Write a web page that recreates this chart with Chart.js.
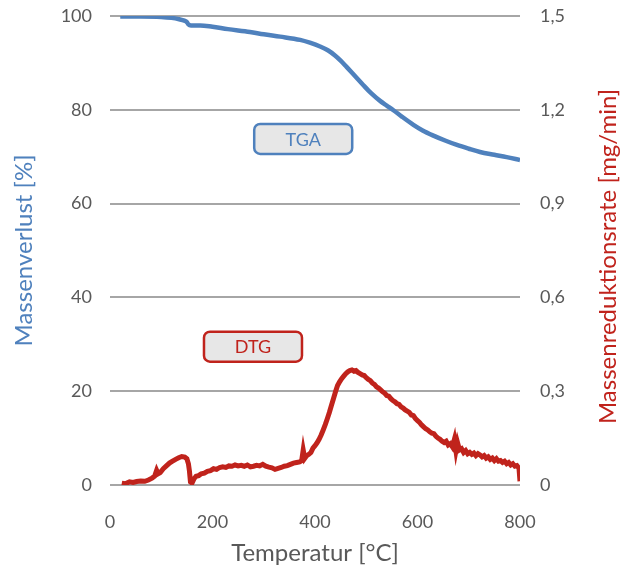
<!DOCTYPE html>
<html lang="de">
<head>
  <meta charset="UTF-8">
  <title>TGA / DTG</title>
  <script src="https://cdn.jsdelivr.net/npm/chart.js"></script>
  <style>
    body { margin: 0; background: #fff; }
    #wrap { width: 624px; height: 574px; }
  </style>
</head>
<body>
  <div id="wrap"><canvas id="tgaChart" width="624" height="574"></canvas></div>

  <script>
    // TGA: Massenverlust [%] ueber Temperatur [°C]
    const tgaTemp = [20, 60, 100, 120, 135, 145, 150, 153, 158, 176, 200, 230, 273, 300, 332, 371, 390, 410, 425, 439,
      450, 462, 478, 494, 510, 527, 540, 553, 570, 592, 610, 631, 655, 677, 700, 722, 750, 774, 800];
    const tgaWerte = [99.9, 99.9, 99.8, 99.6, 99.3, 99.0, 98.7, 98.2, 98.0, 98.0, 97.7, 97.2, 96.6, 96.1, 95.6, 94.9, 94.3, 93.5, 92.7, 91.6,
      90.5, 89.1, 87.2, 85.3, 83.5, 81.9, 80.9, 79.9, 78.5, 76.8, 75.6, 74.5, 73.4, 72.5, 71.7, 71.0, 70.4, 69.9, 69.3];

    // DTG: Massenreduktionsrate [mg/min]
    const dtgTemp = [23, 30, 38, 45, 52, 60, 68, 75, 82, 87, 91, 94, 98, 104, 110, 116, 122, 128, 134, 140,
      146, 150, 153, 155, 157, 160, 164, 168, 173, 178, 184, 190, 196, 202, 208, 214, 220, 226, 232, 238,
      244, 250, 256, 262, 268, 274, 280, 286, 292, 298, 304, 310, 316, 322, 328, 334, 340, 346, 352, 358,
      364, 370, 374, 377, 380, 384, 388, 392, 396, 400, 404, 408, 412, 416, 420, 424, 428, 432, 436, 440,
      444, 448, 452, 456, 460, 464, 468, 472, 476, 480, 484, 488, 492, 496, 500, 504, 508, 512, 516, 520,
      524, 528, 532, 536, 540, 544, 548, 552, 556, 560, 564, 568, 572, 576, 580, 584, 588, 592, 596, 600,
      604, 608, 612, 616, 620, 624, 628, 632, 636, 640, 644, 648, 652, 656, 660, 664, 668, 672, 675, 678,
      682, 686, 690, 694, 698, 702, 706, 710, 714, 718, 722, 726, 730, 734, 738, 742, 746, 750, 754, 758,
      762, 766, 770, 774, 778, 782, 786, 790, 794, 798, 800];
    const dtgWerte = [0.006, 0.004, 0.010, 0.008, 0.011, 0.013, 0.012, 0.016, 0.022, 0.028, 0.047, 0.036, 0.040, 0.052, 0.061, 0.070, 0.076, 0.082, 0.087, 0.091,
      0.089, 0.084, 0.068, 0.045, 0.010, 0.006, 0.020, 0.028, 0.030, 0.036, 0.038, 0.044, 0.046, 0.052, 0.050, 0.056, 0.058, 0.056, 0.061, 0.060,
      0.064, 0.061, 0.063, 0.060, 0.064, 0.058, 0.060, 0.063, 0.061, 0.066, 0.060, 0.057, 0.055, 0.050, 0.053, 0.056, 0.060, 0.062, 0.066, 0.070,
      0.072, 0.074, 0.078, 0.112, 0.085, 0.094, 0.098, 0.104, 0.118, 0.126, 0.135, 0.146, 0.160, 0.176, 0.193, 0.212, 0.232, 0.254, 0.276, 0.298,
      0.318, 0.330, 0.340, 0.348, 0.356, 0.362, 0.366, 0.368, 0.364, 0.366, 0.360, 0.356, 0.352, 0.350, 0.343, 0.338, 0.334, 0.326, 0.322, 0.314,
      0.310, 0.304, 0.298, 0.294, 0.286, 0.284, 0.276, 0.270, 0.266, 0.260, 0.258, 0.250, 0.246, 0.240, 0.236, 0.232, 0.224, 0.222, 0.212, 0.206,
      0.200, 0.192, 0.186, 0.180, 0.176, 0.170, 0.166, 0.164, 0.156, 0.150, 0.146, 0.140, 0.136, 0.140, 0.128, 0.132, 0.122, 0.146, 0.110, 0.136,
      0.112, 0.116, 0.104, 0.110, 0.100, 0.104, 0.098, 0.102, 0.094, 0.100, 0.096, 0.090, 0.094, 0.086, 0.090, 0.082, 0.086, 0.078, 0.084, 0.076,
      0.078, 0.072, 0.076, 0.068, 0.072, 0.064, 0.068, 0.060, 0.062, 0.054, 0.012];

    const blau = '#4F81BD';
    const rot = '#C0231C';
    const grau = '#595959';
    const schrift = 'Lato, "Open Sans", sans-serif';

    // Beschriftungen im Diagramm (Position in Achsenwerten)
    const kaesten = [
      { text: 'TGA', x: 377, y: 73.8, farbe: blau },
      { text: 'DTG', x: 279, y: 29.5, farbe: rot }
    ];

    // feste Breiten/Hoehen der Achsen, ohne Zusatzabstand fuer Tick-Texte
    const festeGroesse = (breite, hoehe) => s => {
      if (breite) s.width = breite;
      if (hoehe) s.height = hoehe;
      s.paddingTop = 0;
      s.paddingBottom = 0;
      s.paddingLeft = 0;
      s.paddingRight = 0;
    };

    const extras = {
      id: 'extras',
      afterDraw(chart) {
        const ctx = chart.ctx;
        const xs = chart.scales.x;
        const ys = chart.scales.y;
        ctx.save();
        kaesten.forEach(k => {
          const cx = xs.getPixelForValue(k.x);
          const cy = ys.getPixelForValue(k.y);
          const w = 98, h = 30;
          ctx.beginPath();
          ctx.roundRect(cx - w / 2, cy - h / 2, w, h, 6);
          ctx.fillStyle = '#E7E7E7';
          ctx.fill();
          ctx.lineWidth = 2.5;
          ctx.strokeStyle = k.farbe;
          ctx.stroke();
          ctx.fillStyle = k.farbe;
          ctx.font = '18px ' + schrift;
          ctx.textAlign = 'center';
          ctx.textBaseline = 'middle';
          ctx.fillText(k.text, cx, cy + 1);
        });
        // rechte Achsenbeschriftung, von unten nach oben
        const a = chart.chartArea;
        ctx.translate(608, (a.top + a.bottom) / 2 + 6);
        ctx.rotate(-Math.PI / 2);
        ctx.fillStyle = rot;
        ctx.font = '24px ' + schrift;
        ctx.textAlign = 'center';
        ctx.textBaseline = 'middle';
        ctx.fillText('Massenreduktionsrate [mg/min]', 0, 0);
        ctx.restore();
      }
    };

    const ctx = document.getElementById('tgaChart').getContext('2d');
    new Chart(ctx, {
      type: 'line',
      data: {
        datasets: [
          {
            label: 'TGA',
            data: tgaTemp.map((t, i) => ({ x: t, y: tgaWerte[i] })),
            borderColor: blau,
            borderWidth: 4.5,
            pointRadius: 0,
            cubicInterpolationMode: 'monotone',
            yAxisID: 'y'
          },
          {
            label: 'DTG',
            data: dtgTemp.map((t, i) => ({ x: t, y: dtgWerte[i] })),
            borderColor: rot,
            borderWidth: 5,
            pointRadius: 0,
            tension: 0,
            yAxisID: 'y2'
          }
        ]
      },
      options: {
        responsive: false,
        animation: false,
        layout: { padding: { top: 16, left: 0, right: 0, bottom: 0 } },
        plugins: {
          legend: { display: false },
          tooltip: { enabled: false }
        },
        scales: {
          x: {
            type: 'linear',
            min: 0,
            max: 800,
            ticks: { stepSize: 200, color: grau, padding: 18, font: { family: schrift, size: 18 } },
            grid: { display: false },
            border: { display: false },
            title: { display: true, text: 'Temperatur [°C]', color: grau, padding: { bottom: 6 }, font: { family: schrift, size: 24 } },
            afterFit: festeGroesse(0, 89)
          },
          y: {
            position: 'left',
            min: 0,
            max: 100,
            ticks: { stepSize: 20, color: grau, padding: 18, font: { family: schrift, size: 18 } },
            grid: { color: '#A6A6A6', lineWidth: 2, drawTicks: false },
            border: { display: false },
            title: { display: true, text: 'Massenverlust [%]', color: blau, padding: { top: 10 }, font: { family: schrift, size: 24 } },
            afterFit: festeGroesse(110, 0)
          },
          y2: {
            position: 'right',
            min: 0,
            max: 1.5,
            ticks: {
              stepSize: 0.3,
              color: grau,
              padding: 20,
              font: { family: schrift, size: 18 },
              callback: v => v === 0 ? '0' : v.toFixed(1).replace('.', ',')
            },
            grid: { display: false, drawTicks: false },
            border: { display: false },
            afterFit: festeGroesse(104, 0)
          }
        }
      },
      plugins: [extras]
    });
  </script>
</body>
</html>
